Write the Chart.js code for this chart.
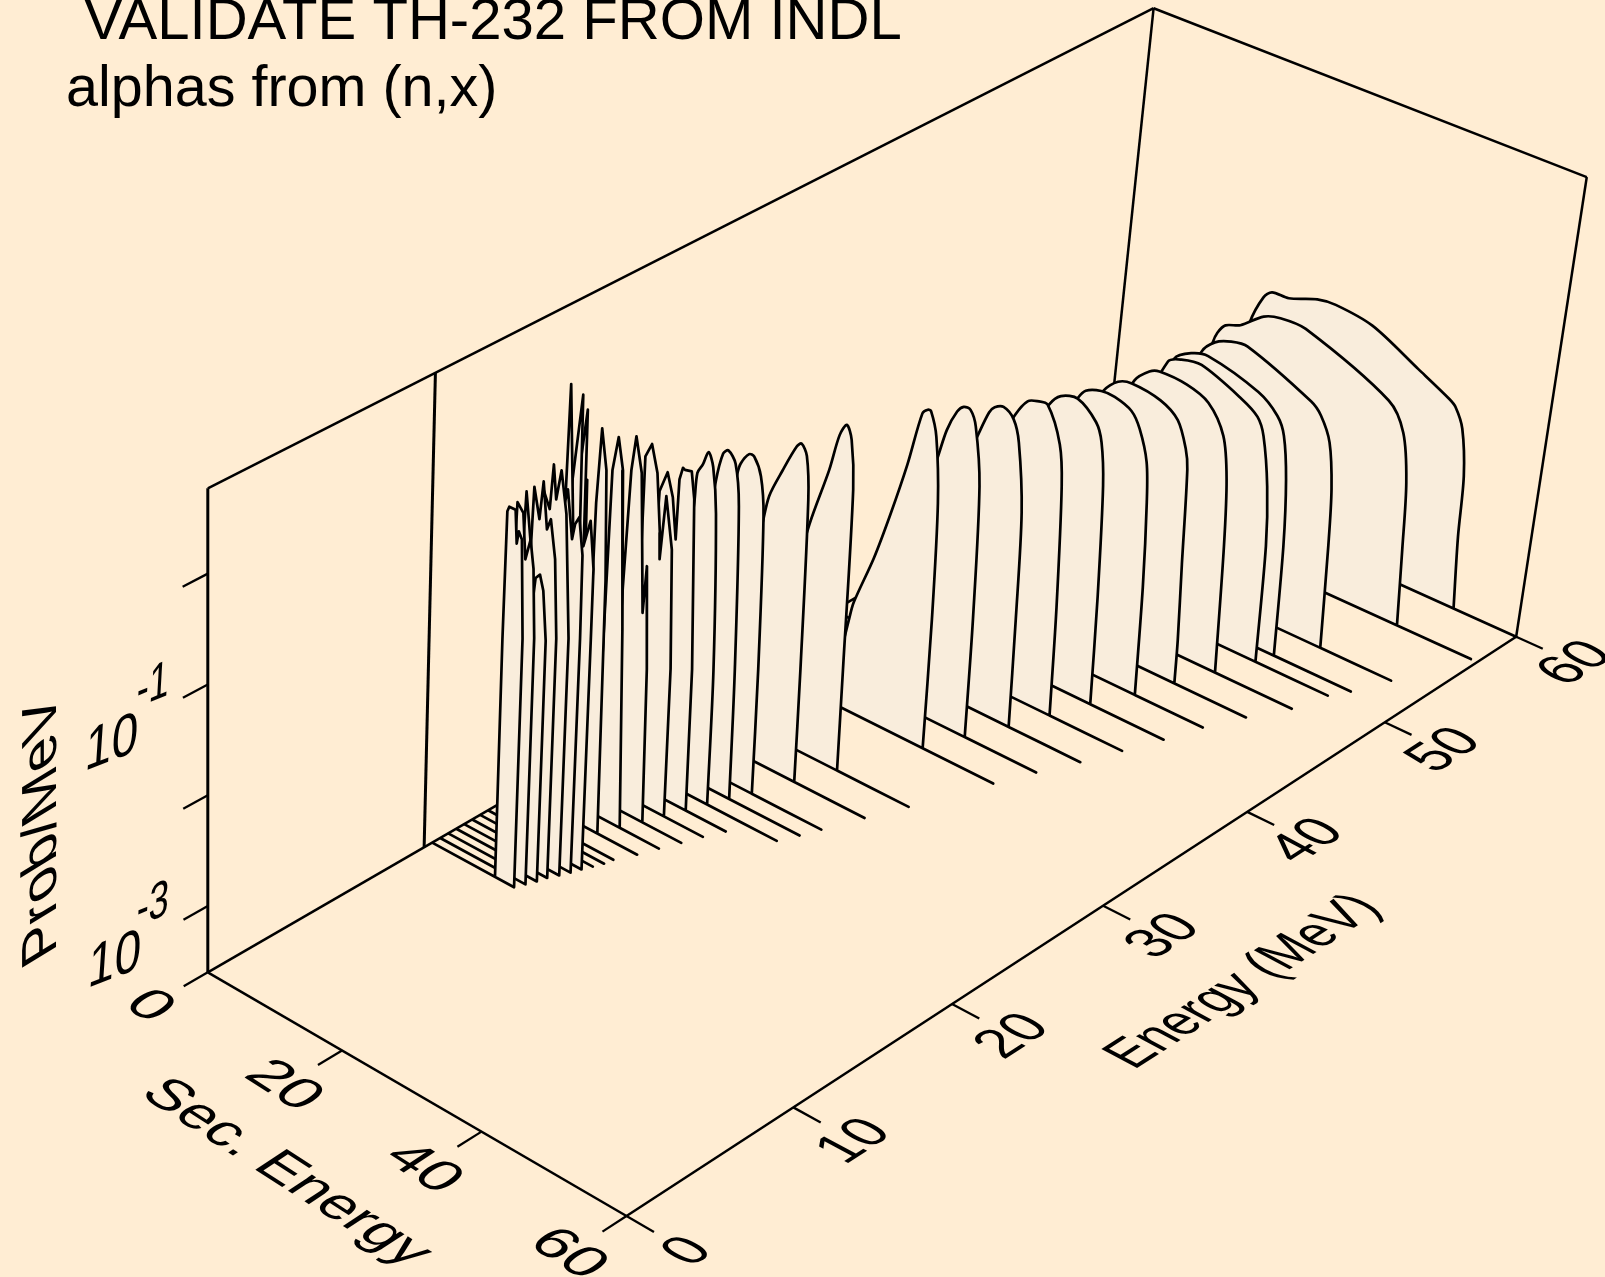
<!DOCTYPE html>
<html>
<head>
<meta charset="utf-8">
<title>VALIDATE TH-232 FROM INDL</title>
<script src="https://cdn.jsdelivr.net/npm/chart.js@4/dist/chart.umd.min.js"></script>
<style>
  html, body { margin: 0; padding: 0; background: #FFEDD3; }
  canvas { display: block; }
</style>
</head>
<body>
<canvas id="waterfall" width="1605" height="1277"></canvas>
<script>
// Incident energies (MeV), far ridge first
const incidentEnergy = [60, 57, 53, 51, 50, 48, 46, 44, 42, 40, 38, 36, 34, 30, 28, 26, 25, 24, 23, 22, 21, 20, 19, 18, 17.5, 17, 16.5, 16, 15.5, 15, 14.5, 14, 13.5];

// Last secondary energy of each spectrum, where its floor line stops
const lastSecEnergy = [60, 59.1, 55.3, 53.4, 52.05, 50.8, 48.2, 46, 44.4, 42.5, 40.6, 38.4, 36.4, 32.7, 30.65, 28.75, 27.8, 26.7, 21.5, 20.4, 19.5, 18.5, 17.6, 16.4, 16.2, 15.7, 15.2, 14.75, 14.25, 13.65, 13.3, 12.8, 12.3];

// Secondary energy (MeV) of the points of each spectrum
const secEnergy = [
  [13, 15, 17, 18.3, 19.8, 20.9, 23.3, 27.2, 29.8, 35.1, 42, 46.6, 47.6, 48.9, 50, 50.4, 51.2],
  [12, 15, 17, 18.7, 19.2, 20.2, 22.25, 25.3, 27.6, 31.2, 43.5, 46, 47.3, 48, 48.7],
  [12, 16, 20, 24.3, 26, 28.2, 30.5, 39.85, 41.4, 43, 44.05, 44.6, 45.3],
  [12, 16, 20, 24.25, 26.45, 28.8, 36.1, 39, 40.2, 41.2, 41.95, 42.5],
  [12, 16, 20, 25.2, 27, 29.8, 35.7, 38.1, 39.2, 40.5, 41.3, 41.8],
  [12, 15, 20, 24.5, 26.4, 27.75, 31.6, 34.8, 37.3, 38.4, 39.1, 39.9],
  [12, 15, 20, 24, 25.9, 27.8, 31.9, 34.5, 36, 36.5, 37.2, 37.8, 38],
  [12, 15, 19, 24.3, 25.3, 27.4, 29.3, 31.75, 33.1, 34.5, 35.1, 35.8, 36.3],
  [11, 14, 19, 24.2, 25.7, 28, 30.8, 31.8, 32.6, 33.4, 33.9],
  [11, 14, 18, 23.5, 25, 26.3, 27.75, 29.9, 30.7, 31.6, 32.1],
  [11, 14, 18, 22.3, 23.7, 24.4, 25.6, 27.1, 28.1, 29.35, 29.9, 30.3],
  [11, 14, 18, 21, 22, 23.2, 24.05, 25, 25.9, 27.1, 27.8, 28.1],
  [12, 13.3, 14.4, 14.9, 17.25, 19.1, 20.9, 22.4, 23.1, 23.55, 24.55, 25.5, 26, 26.2],
  [10, 13, 16, 18.2, 19.3, 20.2, 21, 21.7, 22.1, 22.3],
  [9.5, 11, 13.5, 14.25, 15.9, 17.6, 18.25, 19.1, 19.7, 20.2, 20.4],
  [9.5, 10.5, 12.5, 13.8, 14.2, 15.3, 16, 17.1, 17.8, 18.4, 18.6],
  [9.5, 11, 13, 13.8, 14.5, 15.6, 16.4, 17.2, 17.5],
  [9.5, 11, 12.3, 12.5, 13.2, 13.9, 14.65, 15.4, 16.3, 16.5],
  [8.5, 9.3, 9.5, 10.5, 11.4, 12.1, 12.2, 12.6, 12.9, 13.85, 14.4, 15.4, 15.6],
  [9, 9.5, 9.45, 10.3, 11.25, 12, 12.15, 12.65, 13.8, 14.5, 14.65],
  [8.8, 9.33, 9.77, 10.26, 11.24, 12.3, 12.6, 13.3, 13.75],
  [8.9, 9.1, 9.33, 10, 10.8, 11.75, 12.7],
  [9, 9.36, 9.46, 9.86, 10.7, 11.26, 11.7],
  [9.4, 9.8, 10.3, 11.2],
  [9.4, 9.8, 11.1, 11.3, 12],
  [9.4, 10, 11.5, 11.8, 12.2],
  [9.4, 9.5, 10, 10.7, 10.9, 12, 13.5, 14.37, 15.05, 15.1, 15.2],
  [9.4, 9.5, 10.3, 11, 12.15, 13, 13.35, 13.9, 14.55, 14.7, 14.75],
  [9.4, 9.5, 9.87, 10.85, 11.2, 11.7, 12.3, 13.2, 14.2, 14.25],
  [9.4, 9.5, 9.73, 10.6, 11, 11.7, 12.2, 13, 13.6, 13.65],
  [9.4, 9.5, 9.8, 10.6, 11.2, 11.5, 12.1, 12.65, 13.25, 13.3],
  [9.4, 9.5, 9.73, 10.6, 11.1, 11.75, 12.3, 12.75, 12.8],
  [9.46, 9.4, 9.5, 9.75, 10.65, 10.96, 11.2, 11.67, 12.25, 12.3]
];

// log10 of Prob/MeV at those points
const logProb = [
  [-3.6, -3, -2.4, -1.81, -1.52, -1.44, -1.43, -1.33, -1.31, -1.36, -1.58, -1.73, -1.78, -1.95, -2.37, -2.94, -3.6],
  [-3.6, -3, -2.4, -1.77, -1.66, -1.56, -1.5, -1.33, -1.28, -1.28, -1.61, -1.845, -2.28, -2.9, -3.6],
  [-3.6, -3, -2.2, -1.4, -1.26, -1.19, -1.17, -1.42, -1.51, -1.72, -2.13, -2.65, -3.6],
  [-3.6, -3, -2.2, -1.315, -1.2, -1.16, -1.29, -1.43, -1.585, -1.97, -2.58, -3.6],
  [-3.6, -3, -2.2, -1.24, -1.17, -1.14, -1.29, -1.39, -1.54, -1.98, -2.52, -3.6],
  [-3.6, -3, -2, -1.29, -1.15, -1.11, -1.12, -1.2, -1.44, -1.815, -2.43, -3.6],
  [-3.6, -3, -1.9, -1.255, -1.11, -1.07, -1.11, -1.22, -1.45, -1.625, -2.5, -3.2, -3.6],
  [-3.6, -3, -1.9, -1.16, -1.06, -1, -1, -1.06, -1.19, -1.46, -1.82, -2.6, -3.6],
  [-3.6, -3, -1.8, -1.07, -0.945, -0.9, -1.04, -1.2, -1.585, -2.6, -3.6],
  [-3.6, -3, -1.9, -1.03, -0.86, -0.82, -0.81, -1.12, -1.49, -2.6, -3.6],
  [-3.6, -3, -2, -1.13, -0.85, -0.78, -0.74, -0.81, -1, -1.62, -2.6, -3.6],
  [-3.6, -3, -2, -1.21, -0.91, -0.7, -0.63, -0.63, -0.76, -1.28, -2.5, -3.6],
  [-3.6, -3.2, -2.76, -2.585, -2.1, -1.63, -1.11, -0.585, -0.53, -0.53, -0.74, -1.33, -2.4, -3.6],
  [-3.6, -2.5, -1.5, -0.93, -0.57, -0.445, -0.56, -1, -2.67, -3.6],
  [-3.6, -2.4, -1.43, -1.13, -0.84, -0.57, -0.52, -0.61, -1, -2.56, -3.6],
  [-3.6, -2.6, -1.4, -0.78, -0.67, -0.55, -0.55, -0.7, -1.05, -2.45, -3.6],
  [-3.6, -2, -0.79, -0.51, -0.46, -0.55, -0.92, -2.41, -3.6],
  [-3.6, -2, -0.92, -0.65, -0.55, -0.415, -0.53, -0.94, -2.36, -3.6],
  [-3.6, -1.47, -0.83, -0.625, -0.83, -1.2, -0.64, -0.52, -0.53, -0.515, -0.755, -2.3, -3.6],
  [-3.6, -1.39, -0.43, -0.29, -0.53, -1.06, -1.3, -0.7, -1.16, -2.24, -3.6],
  [-3.6, -1.57, -0.47, -0.14, -0.45, -1.71, -1.27, -2.2, -3.6],
  [-3.6, -1.97, -0.4, -0.075, -0.36, -1.8, -3.6],
  [-3.6, -1.9, -0.62, 0.08, -0.28, -1.28, -3.6],
  [-3.6, -0.5, -0.3, -3.6],
  [-3.6, -0.5, 0.41, -0.8, -3.6],
  [-3.6, -0.6, 0.6, -0.6, -3.6],
  [-3.6, -0.8, -0.3, -0.5, 0.72, -0.6, -0.69, -0.43, -0.85, -1.49, -3.6],
  [-3.6, -0.8, -0.3, -0.6, -0.17, -0.6, -0.45, -0.37, -0.7, -1.46, -3.6],
  [-3.6, -0.8, -0.2, -0.35, 0.07, -0.235, 0.05, -0.32, -1.43, -3.6],
  [-3.6, -0.8, -0.14, -0.41, -0.05, -0.47, -0.36, -0.7, -1.41, -3.6],
  [-3.6, -0.8, -0.14, -0.57, -1.1, -0.88, -0.83, -0.96, -1.4, -3.6],
  [-3.6, -0.8, -0.2, -0.27, -0.68, -0.48, -0.73, -1.35, -3.6],
  [-3.6, -1.43, -0.25, -0.2, -0.2, -0.5, -0.38, -0.44, -1.33, -3.6]
];

const energyTicks = [0, 10, 20, 30, 40, 50, 60];
const secEnergyTicks = [0, 20, 40, 60];
const logProbTicks = [-3, -2, -1, 0];

const LOG_FLOOR = -3.6;
const LOG_TOP = 0.77;
const E_MAX = 60;
const ES_MAX = 60;
const INK = '#000000';
const RIDGE = '#F9EDDC';

// Perspective view of the box: floor plane plus a height vector that changes with E and Es
function project(E, Es, logP) {
  const inv = 2.4406e-4 + 5.912e-7 * E - 2.283e-7 * Es;
  const floorX = (0.050716 + 0.0043121 * E + 0.0015601 * Es) / inv;
  const floorY = 1 / inv - 3125;
  const u = 0.002572 * E;
  const a = 7.481 * u / (1 + u);
  const b = Es / ES_MAX;
  const vx = 46.6 * a + b * (26.5 - 2.5 * a);
  const vy = -484 + 39.8 * a + b * (-20.6 + 5.1 * a);
  const t = (logP - LOG_FLOOR) / (LOG_TOP - LOG_FLOOR);
  return { x: floorX + t * vx, y: floorY + t * vy };
}

function segment(from, to, width, order) {
  return {
    data: [project(...from), project(...to)],
    showLine: true, fill: false, pointRadius: 0,
    borderColor: INK, borderWidth: width, order: order
  };
}

const datasets = [];

// Frame of the box, behind every ridge
const BACK = 1000;
[
  [[0, 0, LOG_FLOOR], [0, 0, LOG_TOP], 3],
  [[0, 0, LOG_TOP], [E_MAX, 0, LOG_TOP], 2.5],
  [[E_MAX, 0, LOG_TOP], [E_MAX, ES_MAX, LOG_TOP], 2.5],
  [[E_MAX, ES_MAX, LOG_TOP], [E_MAX, ES_MAX, LOG_FLOOR], 2.5],
  [[E_MAX, 0, LOG_TOP], [E_MAX, 0, LOG_FLOOR], 2.5],
  [[13, 0, LOG_TOP], [13, 0, LOG_FLOOR], 3],
  [[0, 0, LOG_FLOOR], [E_MAX, 0, LOG_FLOOR], 2.5],
  [[0, 0, LOG_FLOOR], [0, ES_MAX, LOG_FLOOR], 2.5],
  [[0, ES_MAX, LOG_FLOOR], [E_MAX, ES_MAX, LOG_FLOOR], 2.5]
].forEach(e => datasets.push(segment(e[0], e[1], e[2], BACK)));

// Tick marks
energyTicks.forEach(E => datasets.push(segment([E, ES_MAX, LOG_FLOOR], [E, 63.7, LOG_FLOOR], 2.3, BACK)));
secEnergyTicks.forEach(Es => datasets.push(segment([0, Es, LOG_FLOOR], [-1.4, Es, LOG_FLOOR], 2.3, BACK)));
logProbTicks.forEach(z => datasets.push(segment([0, 0, z], [-1.4, 0, z], 2.3, BACK)));

// Ridges: far ones first so the nearer ones hide them.
// Floor corners are doubled so the spline stays sharp there and the floor lines stay straight.
incidentEnergy.forEach((E, i) => {
  const start = project(E, 0, LOG_FLOOR);
  const last = project(E, lastSecEnergy[i], LOG_FLOOR);
  const pts = [start];
  secEnergy[i].forEach((Es, j) => {
    const p = project(E, Es, logProb[i][j]);
    pts.push(p);
    if (logProb[i][j] === LOG_FLOOR) pts.push(p);
  });
  pts.push(last, last, start);
  datasets.push({
    data: pts,
    showLine: true, fill: 'shape', backgroundColor: RIDGE,
    pointRadius: 0, borderColor: INK, borderWidth: 2.7,
    borderJoinStyle: 'round',
    tension: E >= 24 ? 0.3 : 0,
    order: incidentEnergy.length - i
  });
});

// Text laid out on the planes of the box
function skewText(ctx, text, x, y, across, up, align, base) {
  ctx.save();
  ctx.transform(across[0], across[1], -up[0], -up[1], x, y);
  ctx.font = '50px "Liberation Sans", Arial, sans-serif';
  ctx.fillStyle = INK;
  ctx.textAlign = align;
  ctx.textBaseline = base;
  ctx.fillText(text, 0, 0);
  ctx.restore();
}

const boxText = {
  id: 'boxText',
  afterDraw(chart) {
    const ctx = chart.ctx;

    ctx.save();
    ctx.fillStyle = INK;
    ctx.textBaseline = 'alphabetic';
    ctx.font = '58.1px "Liberation Sans", Arial, sans-serif';
    ctx.fillText('VALIDATE TH-232 FROM INDL', 84, 39);
    ctx.font = '57.5px "Liberation Sans", Arial, sans-serif';
    ctx.fillText('alphas from (n,x)', 66, 106);
    ctx.restore();

    const eUp = [-0.88 * 1.18, -0.47 * 1.18];
    energyTicks.forEach(E => {
      const p = project(E, 68.3, LOG_FLOOR);
      skewText(ctx, String(E), p.x, p.y, [0.85 * 1.04, -0.55 * 1.04], eUp, 'center', 'middle');
    });
    skewText(ctx, 'Energy (MeV)', 1244, 982, [0.85 * 0.95, -0.55 * 0.95], eUp, 'center', 'middle');

    const esUp = [0.83 * 1.1, -0.55 * 1.1];
    secEnergyTicks.forEach(Es => {
      const p = project(-3.4, Es, LOG_FLOOR);
      skewText(ctx, String(Es), p.x, p.y, [0.84 * 1.23, 0.54 * 1.23], esUp, 'center', 'middle');
    });
    skewText(ctx, 'Sec. Energy', 286, 1173, [0.84 * 1.18, 0.54 * 1.18], esUp, 'center', 'middle');

    skewText(ctx, 'Prob/MeV', 42, 829, [0, -1.18], [-0.85 * 1.16, 0.52 * 1.16], 'center', 'middle');

    const zAcross = [0.95, -0.36];
    const zUp = [0.08, -1.2];
    const supAcross = [0.72, -0.3];
    const supUp = [0.06, -1.05];
    skewText(ctx, '10', 84, 771, zAcross, zUp, 'left', 'alphabetic');
    skewText(ctx, '-1', 136, 708, supAcross, supUp, 'left', 'alphabetic');
    skewText(ctx, '10', 87, 988, zAcross, zUp, 'left', 'alphabetic');
    skewText(ctx, '-3', 136, 927, supAcross, supUp, 'left', 'alphabetic');
  }
};

new Chart(document.getElementById('waterfall'), {
  type: 'scatter',
  data: { datasets: datasets },
  plugins: [boxText],
  options: {
    responsive: false,
    animation: false,
    layout: { padding: 0 },
    plugins: {
      legend: { display: false },
      tooltip: { enabled: false },
      filler: { drawTime: 'beforeDatasetDraw' }
    },
    scales: {
      x: { type: 'linear', display: false, min: 0, max: 1605 },
      y: { type: 'linear', display: false, min: 0, max: 1277, reverse: true }
    }
  }
});
</script>
</body>
</html>
